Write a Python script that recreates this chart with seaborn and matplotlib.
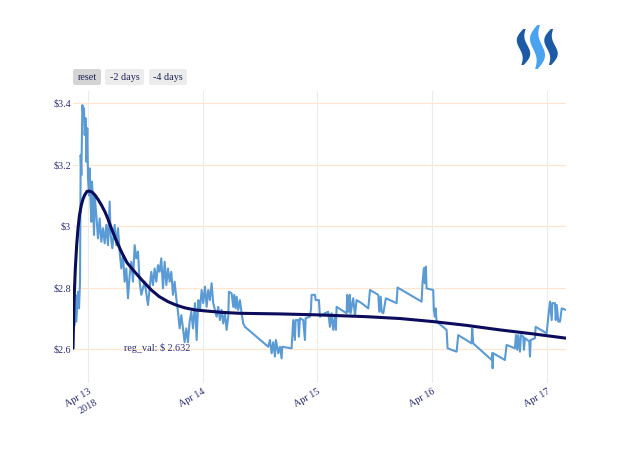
import numpy as np
import pandas as pd
import matplotlib
matplotlib.use("Agg")
import matplotlib.pyplot as plt
from matplotlib.patches import FancyBboxPatch, Polygon
import seaborn as sns

# ---------------- data ----------------
price_hours = [
    -2.79, -2.65, -2.44, -2.09, -1.88, -1.67, -1.53, -1.39, -1.18, -0.97, -0.84, -0.70, -0.49, -0.35, -0.15,
    0.00, 0.21, 0.35, 0.56, 0.70, 0.84, 1.05, 1.26, 1.39, 1.74, 2.09, 2.44, 2.79, 3.14, 3.49, 3.83, 4.18,
    4.53, 4.74, 5.09, 5.58, 5.93, 6.28, 6.62, 6.97, 7.32, 7.67, 8.02, 8.37, 8.72, 9.07, 9.41, 9.76, 10.11,
    10.46, 10.81, 11.16, 11.85, 12.55, 12.90, 13.25, 13.60, 13.95, 14.29, 14.64, 14.99, 15.34, 15.69, 16.04,
    16.39, 16.74, 17.09, 17.43, 17.78, 18.13, 18.48, 18.83, 19.18, 19.53, 19.88, 20.22, 20.57, 20.92, 21.27,
    21.62, 21.97, 22.39, 22.74, 23.08, 23.43, 23.78, 24.12, 24.48, 24.83, 25.17, 25.52, 25.87, 26.21, 26.57,
    26.92, 27.26, 27.61, 27.96, 28.30, 28.66, 29.01, 29.35, 29.50, 30.06, 30.40, 30.61, 30.90, 31.11, 31.44,
    31.80, 32.15, 32.49, 32.84, 37.72, 38.08, 38.43, 38.77, 39.12, 39.33, 39.81, 40.17, 40.52, 40.65, 42.61,
    42.95, 43.30, 43.45, 44.00, 44.14, 44.35, 45.04, 45.40, 45.54, 46.44, 46.65, 46.80, 47.49, 47.64, 48.33,
    48.54, 49.58, 50.27, 50.63, 50.98, 51.32, 51.68, 51.89, 52.03, 54.12, 54.25, 54.54, 54.81, 54.96, 55.51,
    55.87, 56.22, 57.27, 58.66, 59.02, 60.75, 60.96, 61.25, 61.46, 61.80, 62.34, 64.58, 64.79, 69.81, 70.01,
    70.29, 70.50, 70.71, 70.86, 72.25, 72.39, 72.60, 72.75, 72.96, 75.05, 75.26, 77.14, 77.49, 80.28, 80.41,
    80.62, 84.47, 84.60, 84.68, 84.81, 87.24, 87.61, 89.35, 89.56, 89.84, 90.05, 90.40, 90.61, 91.10, 91.24,
    91.45, 92.36, 92.50, 92.64, 93.54, 93.69, 95.99, 96.34, 96.69, 97.05, 97.18, 97.74, 97.89, 98.10, 98.43,
    98.79, 99.14, 100.04,
]
price_values = [
    2.678, 2.776, 2.689, 2.786, 2.732, 2.819, 3.232, 3.166, 3.394, 3.362, 3.384, 3.297, 3.351, 3.210, 3.319,
    3.156, 3.100, 3.188, 3.069, 3.014, 3.145, 3.069, 2.971, 3.100, 3.036, 2.960, 3.025, 2.949, 2.993, 2.944,
    3.004, 2.938, 3.080, 2.971, 2.928, 3.004, 2.938, 2.993, 2.917, 2.862, 2.906, 2.819, 2.862, 2.765, 2.841,
    2.884, 2.819, 2.938, 2.895, 2.917, 2.819, 2.776, 2.819, 2.743, 2.797, 2.851, 2.808, 2.862, 2.819, 2.873,
    2.851, 2.895, 2.797, 2.884, 2.808, 2.862, 2.819, 2.851, 2.776, 2.819, 2.765, 2.721, 2.667, 2.710, 2.667,
    2.622, 2.667, 2.622, 2.689, 2.721, 2.667, 2.749, 2.629, 2.759, 2.727, 2.792, 2.749, 2.803, 2.737, 2.792,
    2.759, 2.814, 2.749, 2.727, 2.705, 2.737, 2.694, 2.727, 2.683, 2.716, 2.662, 2.705, 2.786, 2.781, 2.737,
    2.776, 2.732, 2.770, 2.727, 2.759, 2.716, 2.683, 2.672, 2.607, 2.629, 2.586, 2.622, 2.575, 2.629, 2.586,
    2.607, 2.569, 2.607, 2.602, 2.694, 2.629, 2.694, 2.694, 2.640, 2.700, 2.694, 2.629, 2.700, 2.705, 2.727,
    2.776, 2.776, 2.759, 2.759, 2.705, 2.716, 2.721, 2.672, 2.716, 2.662, 2.705, 2.662, 2.737, 2.716, 2.776,
    2.721, 2.776, 2.716, 2.765, 2.710, 2.759, 2.749, 2.732, 2.792, 2.776, 2.721, 2.770, 2.721, 2.716, 2.765,
    2.749, 2.800, 2.754, 2.814, 2.863, 2.814, 2.868, 2.797, 2.792, 2.727, 2.705, 2.732, 2.689, 2.662, 2.602,
    2.591, 2.645, 2.618, 2.667, 2.618, 2.564, 2.586, 2.537, 2.586, 2.564, 2.613, 2.602, 2.645, 2.597, 2.645,
    2.591, 2.645, 2.640, 2.597, 2.635, 2.624, 2.575, 2.629, 2.635, 2.672, 2.651, 2.705, 2.754, 2.694, 2.749,
    2.749, 2.694, 2.743, 2.689, 2.689, 2.732, 2.727,
]

reg_hours = [-3.14, -2.93, -2.65, -2.37, -2.09, -1.78, -1.39, -1.05, -0.70, -0.21, 0.21, 0.84, 1.46, 2.09,
             2.79, 3.56, 4.18, 4.88, 5.86, 6.97, 8.16, 9.77, 11.30, 13.25, 14.85, 16.74, 18.41, 20.22, 22.38,
             25.10, 28.03, 31.80, 40.17, 47.84, 58.30, 65.27, 72.24, 79.08, 86.19, 93.10, 100.04]
reg_values = [2.602, 2.754, 2.863, 2.938, 2.993, 3.036, 3.069, 3.088, 3.101, 3.113, 3.114, 3.111, 3.101, 3.087,
              3.069, 3.046, 3.023, 2.993, 2.955, 2.917, 2.881, 2.851, 2.824, 2.792, 2.771, 2.754, 2.743, 2.734,
              2.727, 2.723, 2.719, 2.716, 2.714, 2.711, 2.705, 2.699, 2.689, 2.677, 2.662, 2.649, 2.635]

x_tick_days = ["2018-04-13", "2018-04-14", "2018-04-15", "2018-04-16", "2018-04-17"]
x_tick_labels = ["Apr 13\n2018", "Apr 14", "Apr 15", "Apr 16", "Apr 17"]
y_ticks = [2.6, 2.8, 3.0, 3.2, 3.4]
y_tick_labels = ["$2.6", "$2.8", "$3", "$3.2", "$3.4"]
button_labels = ["reset", "-2 days", "-4 days"]
annotation_text = "reg_val: $ 2.632"

# ---------------- build frames ----------------
base = pd.Timestamp("2018-04-13")
price_df = pd.DataFrame({"time": base + pd.to_timedelta(price_hours, unit="h"), "price": price_values})
reg_df = pd.DataFrame({"time": base + pd.to_timedelta(reg_hours, unit="h"), "reg": reg_values})

sns.set_theme(style="white")
plt.rcParams["font.family"] = ["Liberation Serif", "DejaVu Serif"]

W, H = 640, 457
fig = plt.figure(figsize=(W / 100, H / 100), dpi=100)
ax = fig.add_axes([73 / W, 1 - 383 / H, 493 / W, 292 / H])

text_col = "#2b2d78"

sns.lineplot(data=price_df, x="time", y="price", ax=ax, sort=False, estimator=None,
             color="#5b9bd5", linewidth=1.5, zorder=3)
sns.lineplot(data=reg_df, x="time", y="reg", ax=ax, sort=False, estimator=None,
             color="#0c0c5c", linewidth=2.2, zorder=4)

ax.set_xlim(base + pd.Timedelta(hours=-3.14), base + pd.Timedelta(hours=100.04))
ax.set_ylim(2.489, 3.440)

ax.set_xticks([pd.Timestamp(d) for d in x_tick_days])
ax.set_xticklabels(x_tick_labels, rotation=30, ha="right", va="top",
                   rotation_mode="anchor", multialignment="right")
for lbl in ax.get_xticklabels():
    lbl.set_linespacing(1.45)
ax.set_yticks(y_ticks)
ax.set_yticklabels(y_tick_labels)
ax.tick_params(axis="both", length=0, labelsize=7.3, colors=text_col)
ax.tick_params(axis="y", pad=1.5)
ax.tick_params(axis="x", pad=3)

ax.set_xlabel("")
ax.set_ylabel("")
for s in ax.spines.values():
    s.set_visible(False)

ax.grid(False)
for yv in y_ticks:
    ax.axhline(yv, color="#ffe5cc", linewidth=0.8, zorder=1)
for d in x_tick_days:
    ax.axvline(pd.Timestamp(d), color="#ececec", linewidth=0.8, zorder=1)

ax.text(base + pd.Timedelta(hours=7.5), 2.603, annotation_text, fontsize=7.3, color=text_col,
        ha="left", va="center", zorder=5)

# ---------------- buttons ----------------
btns = [(73, 101, "#d4d4d4"), (105, 144, "#ececec"), (149, 187, "#ececec")]
for (x0, x1, fc), lab in zip(btns, button_labels):
    y0, y1 = 69, 85
    patch = FancyBboxPatch((x0 / W, 1 - y1 / H), (x1 - x0) / W, (y1 - y0) / H,
                           boxstyle="round,pad=0,rounding_size=0.004",
                           transform=fig.transFigure, facecolor=fc, edgecolor="none")
    fig.add_artist(patch)
    fig.text((x0 + x1) / 2 / W, 1 - (y0 + y1) / 2 / H, lab, fontsize=7.3, color="#1f2456",
             ha="center", va="center")

# ---------------- logo ----------------
def swoosh(xc, ytop, ybot, amp, width, color):
    t = np.linspace(0, 1, 60)
    cx = xc - amp * np.sin(2 * np.pi * t) + amp * 0.6 * (0.5 - t)
    cy = ytop + (ybot - ytop) * t
    half = width * (0.25 + 0.75 * np.sin(np.pi * t)) / 2
    left = np.column_stack([(cx - half) / W, 1 - cy / H])
    right = np.column_stack([(cx + half) / W, 1 - cy / H])
    pts = np.vstack([left, right[::-1]])
    fig.add_artist(Polygon(pts, closed=True, transform=fig.transFigure, facecolor=color, edgecolor="none"))

swoosh(523.5, 29, 65, 3.2, 9.5, "#1d5aa6")
swoosh(537.5, 25, 69, 3.6, 10.5, "#4aa3f0")
swoosh(551.0, 29, 65, 3.2, 9.5, "#1d5aa6")

fig.savefig("out.png", dpi=100)
